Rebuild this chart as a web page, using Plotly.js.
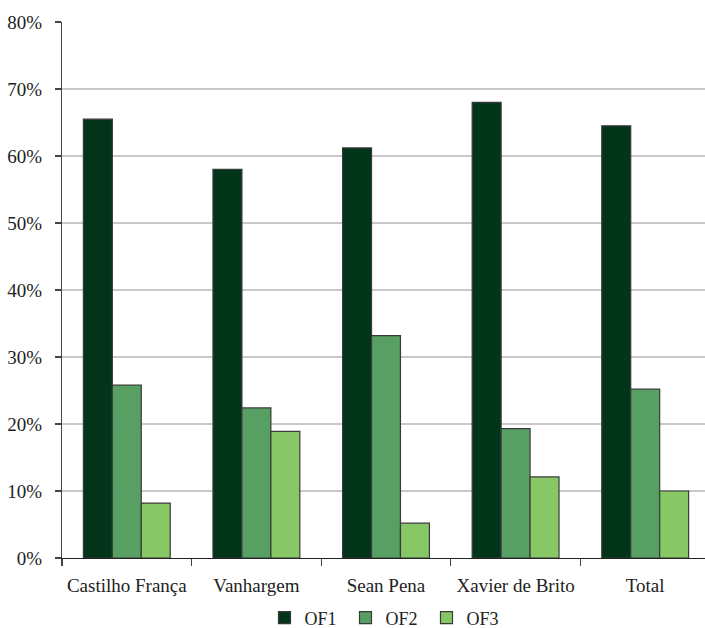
<!DOCTYPE html>
<html>
<head>
<meta charset="utf-8">
<script src="https://cdn.plot.ly/plotly-3.0.1.min.js"></script>
<style>
html,body{margin:0;padding:0;overflow:hidden;background:#fff;}
#chart{width:710px;height:628px;}
</style>
</head>
<body>
<div id="chart"></div>
<script>
const categories = ["Castilho França", "Vanhargem", "Sean Pena", "Xavier de Brito", "Total"];
const seriesNames = ["OF1", "OF2", "OF3"];
const of1 = [0.655, 0.580, 0.612, 0.680, 0.645];
const of2 = [0.258, 0.224, 0.332, 0.193, 0.252];
const of3 = [0.082, 0.189, 0.052, 0.121, 0.100];
const colors = ["#02341a", "#579f62", "#88c765"];
const yTicks = [0, 0.1, 0.2, 0.3, 0.4, 0.5, 0.6, 0.7, 0.8];

const values = [of1, of2, of3];
const fontFamily = "Liberation Serif";
const traces = values.map((v, i) => ({
  type: "bar",
  name: seriesNames[i],
  x: categories,
  y: v,
  marker: {color: colors[i], line: {color: "#3a3a3a", width: 1.2}},
  hoverinfo: "skip"
}));

const layout = {
  width: 710,
  height: 628,
  margin: {l: 62, r: 0, t: 22, b: 70, autoexpand: false},
  paper_bgcolor: "#ffffff",
  plot_bgcolor: "#ffffff",
  barmode: "group",
  bargap: 0.33,
  bargroupgap: 0,
  font: {family: fontFamily, size: 19, color: "#222222"},
  xaxis: {
    type: "category",
    tickson: "boundaries",
    ticks: "outside",
    ticklen: 7,
    tickcolor: "#444444",
    tickwidth: 1.2,
    showline: true,
    linecolor: "#222222",
    linewidth: 1.2,
    showgrid: false,
    tickfont: {family: fontFamily, size: 19, color: "#222222"},
    ticklabelstandoff: 10
  },
  yaxis: {
    range: [0, 0.8],
    tickvals: yTicks,
    tickformat: ".0%",
    ticks: "outside",
    ticklen: 6,
    tickcolor: "#444444",
    tickwidth: 1.2,
    showline: true,
    linecolor: "#444444",
    linewidth: 1.2,
    showgrid: true,
    gridcolor: "#c9c9c9",
    gridwidth: 1.2,
    zeroline: false,
    tickfont: {family: fontFamily, size: 19, color: "#222222"},
    ticklabelstandoff: 9
  },
  showlegend: true,
  legend: {
    orientation: "h",
    x: 0.5,
    xanchor: "center",
    yref: "container",
    y: 0.016,
    yanchor: "middle",
    entrywidth: 36,
    font: {family: fontFamily, size: 18, color: "#222222"},
    itemclick: false
  }
};

Plotly.newPlot("chart", traces, layout, {staticPlot: true, displayModeBar: false});
</script>
</body>
</html>
